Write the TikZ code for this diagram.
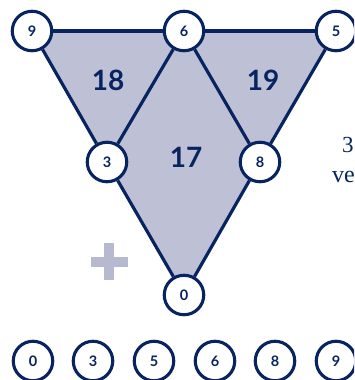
\documentclass[tikz,border=0pt]{standalone}
\usepackage{fontspec}
\setmainfont{Liberation Serif}
\newfontfamily\numfont{Lato}
\definecolor{navy}{RGB}{8,36,96}
\definecolor{lav}{RGB}{190,193,214}
\definecolor{plusc}{RGB}{182,185,208}
\begin{document}
\begin{tikzpicture}[x=1pt,y=-1pt,
  vert/.style={circle,draw=navy,line width=3.1pt,fill=white,minimum size=39.5pt,inner sep=0pt,
    font=\numfont\bfseries\fontsize{14.5}{14.5}\selectfont,text=navy},
  edge/.style={draw=navy,line width=3.2pt},
  big/.style={font=\numfont\bfseries\fontsize{28}{28}\selectfont,text=navy}]
\clip (0,0) rectangle (354,380);
\useasboundingbox (0,0) rectangle (354,380);
\coordinate (p9) at (32,31);
\coordinate (p5) at (336,31);
\coordinate (p0) at (184,295);
\fill[lav] (p9) -- (p5) -- (p0) -- cycle;
\node[vert] (n9) at (32,31) {9};
\node[vert] (n6) at (184,31) {6};
\node[vert] (n5) at (336,31) {5};
\node[vert] (n3) at (107,162) {3};
\node[vert] (n8) at (260,162) {8};
\node[vert] (n0) at (184,295) {0};
\draw[edge] (n9) -- (n6);
\draw[edge] (n6) -- (n5);
\draw[edge] (n9) -- (n3);
\draw[edge] (n3) -- (n0);
\draw[edge] (n5) -- (n8);
\draw[edge] (n8) -- (n0);
\draw[edge] (n6) -- (n3);
\draw[edge] (n6) -- (n8);
\node[big] (t18) at (108,80) {18};
\node[big] (t19) at (263,80) {19};
\node[big] (t17) at (186,157) {17};
\fill[plusc] (91,257) rectangle (128,267);
\fill[plusc] (104,243) rectangle (114,280);
\node[anchor=base west,text=navy,font=\fontsize{23}{23}\selectfont,inner sep=0pt] (tx3) at (342,152) {3};
\node[anchor=base west,text=navy,font=\fontsize{24}{24}\selectfont,inner sep=0pt] (txve) at (332,182) {ve};
\node[vert] (b0) at (33,361) {0};
\node[vert] (b3) at (93,361) {3};
\node[vert] (b5) at (154,361) {5};
\node[vert] (b6) at (215,361) {6};
\node[vert] (b8) at (275,361) {8};
\node[vert] (b9) at (336,361) {9};
\end{tikzpicture}
\end{document}
